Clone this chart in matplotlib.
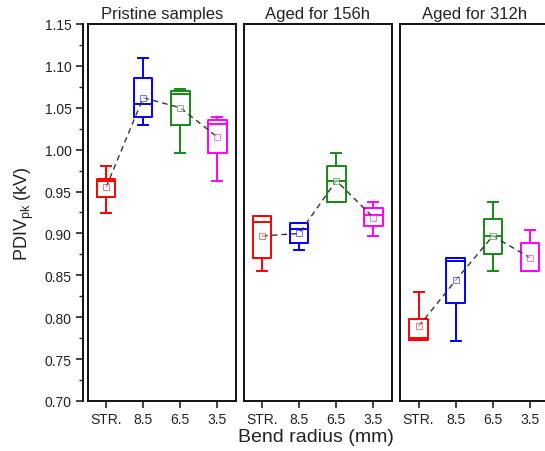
import matplotlib
matplotlib.use("Agg")
import matplotlib.pyplot as plt
from matplotlib.ticker import MultipleLocator

plt.rcParams['font.family'] = ['Liberation Sans', 'DejaVu Sans']
plt.rcParams['mathtext.fontset'] = 'custom'
plt.rcParams['mathtext.rm'] = 'Liberation Sans'
plt.rcParams['text.color'] = '#222222'
plt.rcParams['axes.labelcolor'] = '#222222'
plt.rcParams['xtick.labelcolor'] = '#222222'
plt.rcParams['ytick.labelcolor'] = '#222222'

categories = ["STR.", "8.5", "6.5", "3.5"]
panel_titles = ["Pristine samples", "Aged for 156h", "Aged for 312h"]
colors = ["#ff0000", "#0000ff", "#158a15", "#ff00ff"]

# per panel, per category: whislo, q1, med, q3, whishi, mean
pristine_whislo = [0.924, 1.030, 0.996, 0.963]
pristine_q1     = [0.943, 1.039, 1.029, 0.996]
pristine_med    = [0.963, 1.054, 1.066, 1.031]
pristine_q3     = [0.965, 1.085, 1.070, 1.035]
pristine_whishi = [0.981, 1.109, 1.072, 1.039]
pristine_mean   = [0.955, 1.062, 1.050, 1.015]

aged156_whislo = [0.855, 0.880, 0.938, 0.897]
aged156_q1     = [0.871, 0.888, 0.938, 0.909]
aged156_med    = [0.914, 0.905, 0.963, 0.922]
aged156_q3     = [0.921, 0.913, 0.980, 0.930]
aged156_whishi = [0.921, 0.913, 0.996, 0.938]
aged156_mean   = [0.897, 0.900, 0.963, 0.919]

aged312_whislo = [0.773, 0.772, 0.855, 0.855]
aged312_q1     = [0.773, 0.817, 0.875, 0.855]
aged312_med    = [0.775, 0.867, 0.897, 0.855]
aged312_q3     = [0.798, 0.871, 0.917, 0.888]
aged312_whishi = [0.830, 0.871, 0.938, 0.904]
aged312_mean   = [0.789, 0.844, 0.897, 0.871]

panels = [
    (pristine_whislo, pristine_q1, pristine_med, pristine_q3, pristine_whishi, pristine_mean),
    (aged156_whislo, aged156_q1, aged156_med, aged156_q3, aged156_whishi, aged156_mean),
    (aged312_whislo, aged312_q1, aged312_med, aged312_q3, aged312_whishi, aged312_mean),
]

W, H = 545, 452
fig = plt.figure(figsize=(W / 100, H / 100), dpi=100)

bottom = 1 - 402 / H
top = 1 - 25 / H
height = top - bottom
pw = 148.5 / W
lefts = [87.5 / W, 243.5 / W, 400.0 / W]

positions = [1, 2, 3, 4]
axes = []
for pi, (left, data) in enumerate(zip(lefts, panels)):
    ax = fig.add_axes([left, bottom, pw, height])
    axes.append(ax)
    whislo, q1, med, q3, whishi, mean = data
    for i in range(4):
        st = dict(whislo=whislo[i], q1=q1[i], med=med[i], q3=q3[i],
                  whishi=whishi[i], mean=mean[i], fliers=[])
        c = colors[i]
        ax.bxp([st], positions=[positions[i]], widths=0.5, showmeans=False,
               showfliers=False,
               boxprops=dict(color=c, linewidth=1.4),
               medianprops=dict(color=c, linewidth=1.4),
               whiskerprops=dict(color=c, linewidth=1.4),
               capprops=dict(color=c, linewidth=1.4),
               capwidths=0.27, manage_ticks=False)
    ax.plot(positions, mean, linestyle=(0, (4, 3)), color="#333333",
            linewidth=1.0, zorder=3)
    for i in range(4):
        ax.plot(positions[i], mean[i], marker='s', markersize=4,
                markerfacecolor='white', markeredgecolor=colors[i],
                markeredgewidth=0.7, alpha=0.55, zorder=4, linestyle='none')
    ax.set_xlim(0.5, 4.5)
    ax.set_ylim(0.70, 1.15)
    ax.set_xticks(positions)
    ax.set_xticklabels(categories, fontsize=10)
    ax.tick_params(axis='x', direction='out', length=5, width=1.2, pad=3,
                   color='#222222')
    ax.set_title(panel_titles[pi], fontsize=12, pad=4)
    for s in ax.spines.values():
        s.set_linewidth(1.4)
        s.set_color('#111111')
    if pi == 0:
        ax.spines['left'].set_position(('outward', 3.3))
        ax.plot([0, 0], [0, 1], transform=ax.transAxes, color='#111111',
                linewidth=1.4, clip_on=False)
        ax.yaxis.set_major_locator(MultipleLocator(0.05))
        ax.yaxis.set_minor_locator(MultipleLocator(0.025))
        ax.yaxis.set_major_formatter(plt.FuncFormatter(lambda v, p: f"{v:.2f}"))
        ax.tick_params(axis='y', which='major', direction='out', length=5,
                       width=1.2, labelsize=10, pad=3, color='#222222')
        ax.tick_params(axis='y', which='minor', direction='out', length=3,
                       width=1.0, color='#222222')
        ax.set_ylabel(r'PDIV$_{\mathregular{pk}}$ (kV)', fontsize=13, labelpad=6)
    else:
        ax.set_yticks([])

fig.text(316 / W, 1 - 438 / H, "Bend radius (mm)", ha='center', va='center',
         fontsize=14)

fig.savefig("out.png", dpi=100)
